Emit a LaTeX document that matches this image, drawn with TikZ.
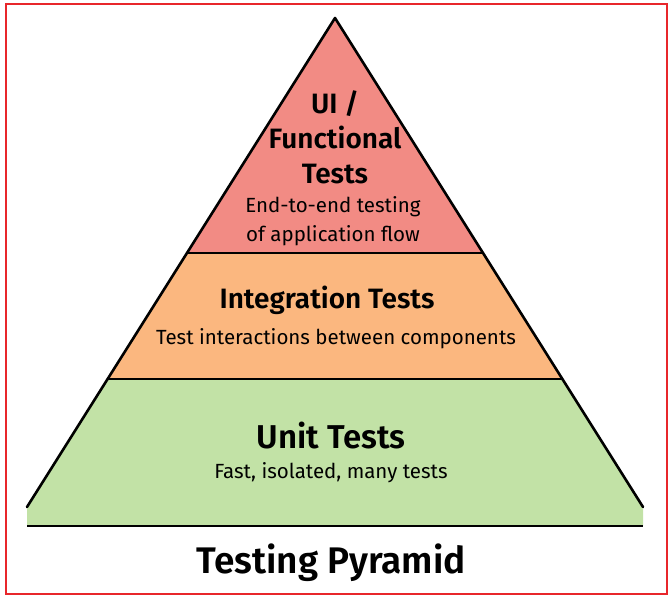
\documentclass[tikz,border=0pt]{standalone}
\usepackage{fontspec}
\setmainfont{Fira Sans}[BoldFont={Fira Sans SemiBold}]
\definecolor{cred}{HTML}{F28B84}
\definecolor{corange}{HTML}{FBB77F}
\definecolor{cgreen}{HTML}{C2E2A6}
\definecolor{cframe}{HTML}{E8262B}
\begin{document}
\begin{tikzpicture}[x=1pt,y=-1pt,
  ttl/.style={font=\fontsize{28}{35}\selectfont\bfseries, align=center},
  dsc/.style={font=\fontsize{20.5}{29}\selectfont, align=center},
  edge/.style={line width=2.6pt, line cap=round, line join=round}]
\useasboundingbox (0,0) rectangle (672,597);
\draw[cframe, line width=2pt] (6,4) rectangle (667,594);
\coordinate (apex) at (335,18);
\coordinate (bl) at (27,507);
\coordinate (br) at (643,507);
\coordinate (bbl) at (27,526);
\coordinate (bbr) at (643,526);
\coordinate (l1) at (187,253); \coordinate (r1) at (483,253);
\coordinate (l2) at (108,379); \coordinate (r2) at (562,379);
\fill[cred] (apex) -- (r1) -- (l1) -- cycle;
\fill[corange] (l1) -- (r1) -- (r2) -- (l2) -- cycle;
\fill[cgreen] (l2) -- (r2) -- (br) -- (bbr) -- (bbl) -- (bl) -- cycle;
\draw[edge] (l1) -- (r1);
\draw[edge] (l2) -- (r2);
\draw[edge] (bl) -- (apex) -- (br);
\draw[edge, line cap=butt] (bbl) -- (bbr);
\node[ttl] (ui) at (335,137) {UI /\\Functional\\Tests};
\node[dsc] (uid) at (333,221) {End-to-end testing\\of application flow};
\node[ttl] (it) at (327,300) {Integration Tests};
\node[dsc] (itd) at (336,339) {Test interactions between components};
\node[ttl, font=\fontsize{33}{38}\selectfont\bfseries] (ut) at (331,436) {Unit Tests};
\node[dsc] (utd) at (331,473) {Fast, isolated, many tests};
\node[ttl, font=\fontsize{37}{42}\selectfont\bfseries] (title) at (331,563) {Testing Pyramid};
\end{tikzpicture}
\end{document}
